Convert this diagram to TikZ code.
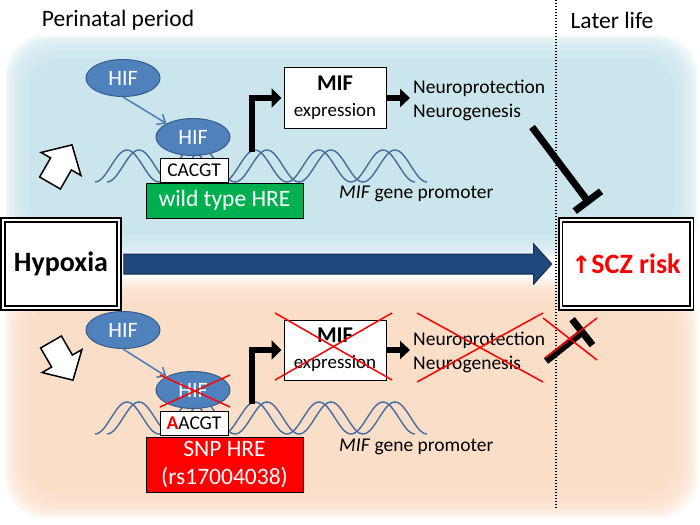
\documentclass[tikz,border=0pt]{standalone}
\usepackage{fontspec}
\setmainfont{Carlito}
\newfontfamily\dejavu{DejaVu Sans}
\usetikzlibrary{arrows.meta,calc,shapes.geometric}
\definecolor{bgblue}{RGB}{203,229,237}
\definecolor{bgorange}{RGB}{251,222,200}
\definecolor{hifblue}{RGB}{79,129,189}
\definecolor{hifborder}{RGB}{56,93,138}
\definecolor{dnablue}{RGB}{68,110,160}
\definecolor{navy}{RGB}{31,73,125}
\definecolor{navyborder}{RGB}{20,45,80}
\definecolor{hregreen}{RGB}{0,176,80}
\definecolor{xred}{RGB}{255,0,0}
\begin{document}
\begin{tikzpicture}[x=1pt,y=-1pt,
  hif/.style={ellipse,fill=hifblue,draw=hifborder,line width=1pt,minimum width=74pt,minimum height=37pt,inner sep=0pt,text=white,font=\fontsize{22}{22}\selectfont},
  hifarrow/.style={draw=hifblue,line width=1.6pt,-{Straight Barb[length=7pt,width=12pt]}},
  dna/.style={draw=dnablue,line width=1.4pt},
  seqbox/.style={draw=black,fill=white,line width=1pt,minimum width=68pt,minimum height=24pt,inner sep=0pt,font=\fontsize{19.5}{20}\selectfont},
  hrebox/.style={draw=black,line width=1pt,minimum width=157pt,inner sep=0pt,text=white,align=center,font=\fontsize{23.5}{28}\selectfont},
  mifbox/.style={draw=black,fill=white,line width=1pt,minimum width=102pt,minimum height=60pt,inner sep=0pt,align=center,font=\fontsize{19}{26}\selectfont},
  bentarrow/.style={draw=black,line width=6pt,-{Triangle[length=10pt,width=19pt]}},
  thickarrow/.style={draw=black,line width=6pt,-{Triangle[length=10pt,width=18pt]}},
  inhibit/.style={draw=black,line width=7pt,-{Bar[width=33pt]}},
  xcross/.style={draw=xred,line width=1.5pt},
  outtext/.style={inner sep=0pt,align=left,font=\fontsize{19.5}{24}\selectfont},
  bigbox/.style={draw=black,fill=white,double=white,double distance=2pt,line width=1.6pt,minimum height=88pt,inner sep=0pt,font=\fontsize{28}{30}\selectfont\bfseries},
  hollow/.style={draw=black,fill=white,line width=1.5pt,line join=miter},
  header/.style={inner sep=0pt,font=\fontsize{23.5}{24}\selectfont}
]
\useasboundingbox (0,0) rectangle (700,524);
% soft-edged background regions
\foreach \i in {0,...,11}{
  \fill[bgblue,fill opacity=0.2,rounded corners=40pt] (5+2*\i,35+2*\i) rectangle (698-2*\i,258-2*\i);
  \fill[bgorange,fill opacity=0.2,rounded corners=40pt] (5+2*\i,278+2*\i) rectangle (698-2*\i,518-2*\i);
}
\fill[bgblue,rounded corners=30pt] (29,59) rectangle (674,234);
\fill[bgorange,rounded corners=30pt] (29,302) rectangle (674,494);

% headers and divider
\node[header] (hdrA) at (118,20) {Perinatal period};
\node[header] (hdrB) at (612,20) {Later life};
\coordinate (divtop) at (556,0);
\coordinate (divbot) at (556,508);
\draw[line width=1.4pt,dash pattern=on 1.4pt off 1.6pt] (divtop) -- (divbot);

% ===== top (wild type) =====
\draw[dna] plot[domain=95:415,samples=161] (\x,{166-16*cos(5.625*(\x-127))});
\draw[dna] plot[domain=107:427,samples=161] (\x,{166-16*cos(5.625*(\x-139))});
\draw[hollow,shift={(50,183)},rotate=60] (0,-12) -- (22,-12) -- (22,-23) -- (44,0) -- (22,23) -- (22,12) -- (0,12) -- cycle;
\node[hif] (hifA) at (123,78) {HIF};
\node[hif] (hifB) at (193,137) {HIF};
\draw[hifarrow] (hifA.south) -- (hifB.north west);
\node[seqbox] (seqA) at (194,170) {CACGT};
\node[hrebox,fill=hregreen,minimum height=35pt] (hreA) at (224.5,200.5) {wild type HRE};
\node[mifbox] (mifA) at (335,98) {{\fontsize{22.5}{26}\selectfont\bfseries MIF}\\expression};
\coordinate (tssA) at (252,152);
\draw[bentarrow] (tssA) |- ([xshift=-2pt]mifA.west);
\node[outtext,anchor=west] (nA) at (413,100) {Neuroprotection\\Neurogenesis};
\draw[thickarrow] (mifA.east) -- ([xshift=-3pt]mifA.east -| nA.west);
\node[anchor=west,inner sep=0pt,font=\fontsize{19.5}{20}\selectfont] (promA) at (339,194) {\textit{MIF} gene promoter};
\coordinate (inhAs) at (532,127);
\coordinate (inhAe) at (590,204);
\draw[inhibit] (inhAs) -- (inhAe);

% ===== middle =====
\node[bigbox,minimum width=116pt] (hyp) at (61,264) {Hypoxia};
\node[bigbox,minimum width=131pt,text=xred] (scz) at (626,264) {{\dejavu\bfseries\fontsize{24}{30}\selectfont ↑}SCZ risk};
\coordinate (ba) at ($(hyp.east)+(4,0)$);
\coordinate (bb) at ($(scz.west)+(-8,0)$);
\draw[fill=navy,draw=navyborder,line width=1pt,line join=miter]
  ($(ba)+(0,-10)$) -- ($(bb)+(-18,-10)$) -- ($(bb)+(-18,-20)$) -- (bb) -- ($(bb)+(-18,20)$) -- ($(bb)+(-18,10)$) -- ($(ba)+(0,10)$) -- cycle;

% ===== bottom (SNP) =====
\draw[dna] plot[domain=95:415,samples=161] (\x,{418-16*cos(5.625*(\x-127))});
\draw[dna] plot[domain=107:427,samples=161] (\x,{418-16*cos(5.625*(\x-139))});
\draw[hollow,shift={(51,342)},rotate=-60] (0,-12) -- (22,-12) -- (22,-23) -- (44,0) -- (22,23) -- (22,12) -- (0,12) -- cycle;
\node[hif] (hifC) at (123,330) {HIF};
\node[hif] (hifD) at (193,390) {HIF};
\draw[hifarrow] (hifC.south) -- (hifD.north west);
\draw[xcross] ($(hifD)+(-33,-15)$) -- ($(hifD)+(37,17)$);
\draw[xcross] ($(hifD)+(-33,17)$) -- ($(hifD)+(37,-15)$);
\node[seqbox] (seqB) at (194,423) {\textcolor{xred}{\bfseries A}ACGT};
\node[hrebox,fill=xred,minimum height=55pt] (hreB) at (224.5,464.5) {SNP HRE\\(rs17004038)};
\node[mifbox] (mifB) at (335,350) {{\fontsize{22.5}{26}\selectfont\bfseries MIF}\\expression};
\draw[xcross] ($(mifB)+(-60,-37)$) -- ($(mifB)+(57,30)$);
\draw[xcross] ($(mifB)+(-60,30)$) -- ($(mifB)+(57,-37)$);
\coordinate (tssB) at (252,404);
\draw[bentarrow] (tssB) |- ([xshift=-2pt]mifB.west);
\node[outtext,anchor=west] (nB) at (413,352) {Neuroprotection\\Neurogenesis};
\draw[thickarrow] (mifB.east) -- ([xshift=-3pt]mifB.east -| nB.west);
\draw[xcross] (417,313) -- (543,382);
\draw[xcross] (417,382) -- (543,313);
\node[anchor=west,inner sep=0pt,font=\fontsize{19.5}{20}\selectfont] (promB) at (339,447) {\textit{MIF} gene promoter};
\coordinate (inhBs) at (546,361);
\coordinate (inhBe) at (585,330);
\draw[inhibit] (inhBs) -- (inhBe);
\draw[xcross] (543,318) -- (597,360);
\draw[xcross] (545,358) -- (597,318);
\end{tikzpicture}
\end{document}
